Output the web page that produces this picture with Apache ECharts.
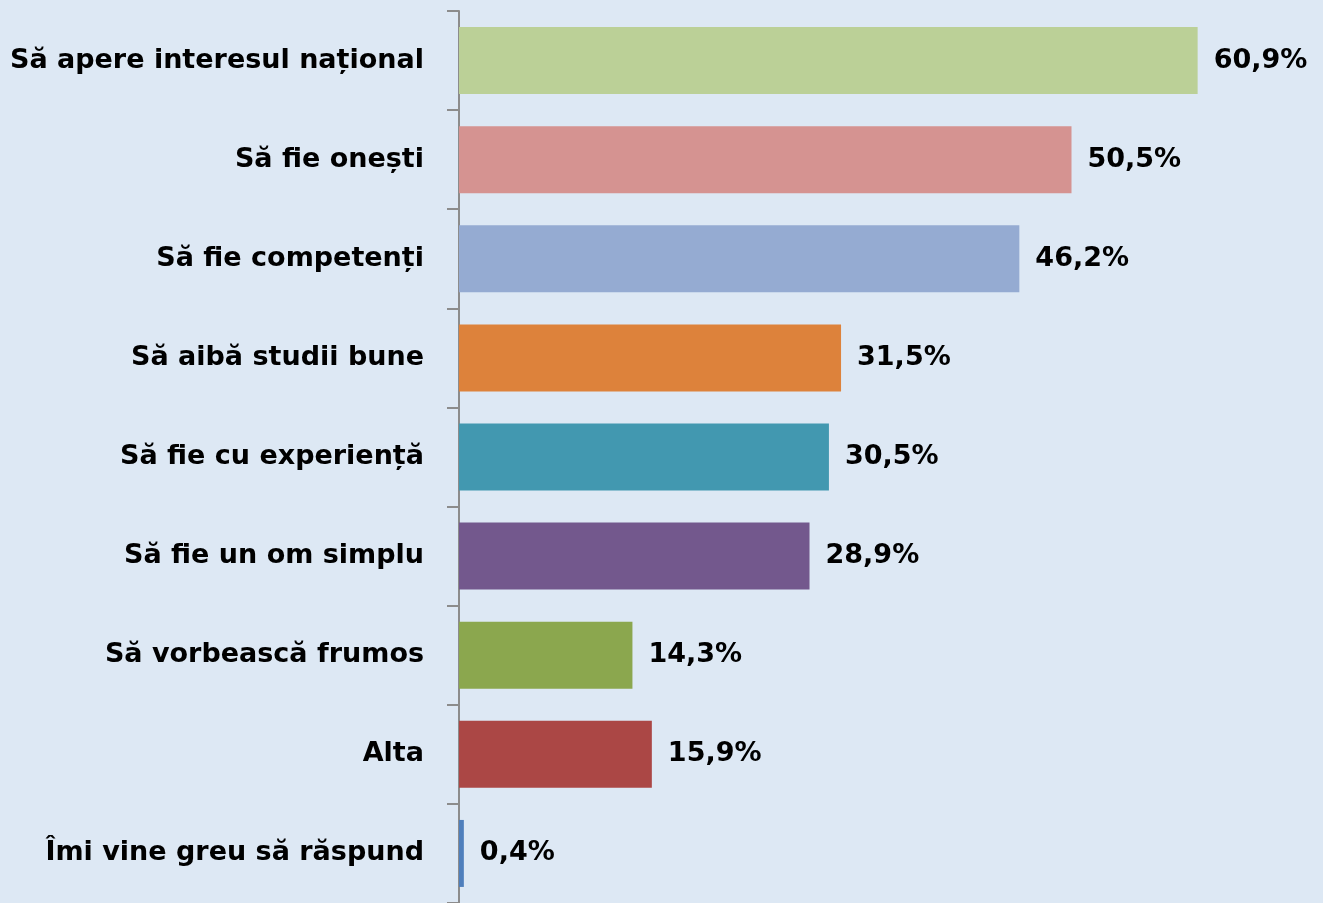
<!DOCTYPE html>
<html>
<head>
<meta charset="utf-8">
<script src="https://cdn.jsdelivr.net/npm/echarts@6/dist/echarts.min.js"></script>
<style>
  html, body { margin: 0; padding: 0; background: #dde8f4; }
  #chart { width: 1323px; height: 903px; }
</style>
</head>
<body>
<div id="chart"></div>
<script>
const categories = [
  "Să apere interesul național",
  "Să fie onești",
  "Să fie competenți",
  "Să aibă studii bune",
  "Să fie cu experiență",
  "Să fie un om simplu",
  "Să vorbească frumos",
  "Alta",
  "Îmi vine greu să răspund"
];
const values = [60.9, 50.5, 46.2, 31.5, 30.5, 28.9, 14.3, 15.9, 0.4];
const barColors = [
  "#bbd097", "#d59391", "#95abd2", "#dd823b", "#4298b0",
  "#73588d", "#8ba74e", "#ab4745", "#4f7fbc"
];

const chart = echarts.init(document.getElementById("chart"));

chart.setOption({
  backgroundColor: "#dde8f4",
  animation: false,
  grid: { left: 459, right: 15, top: 11, bottom: -2, containLabel: false },
  xAxis: {
    type: "value",
    min: 0,
    max: 70,
    show: false
  },
  yAxis: {
    type: "category",
    inverse: true,
    data: categories,
    axisLine: { show: true, lineStyle: { color: "#8c8c8c", width: 2 } },
    axisTick: { show: true, length: 12, lineStyle: { color: "#8c8c8c", width: 2 } },
    axisLabel: {
      margin: 35,
      color: "#000",
      fontFamily: "DejaVu Sans",
      fontWeight: "bold",
      fontSize: 27
    },
    splitLine: { show: false }
  },
  series: [
    {
      type: "bar",
      data: values.map((v, i) => ({ value: v, itemStyle: { color: barColors[i] } })),
      barWidth: 67,
      label: {
        show: true,
        position: "right",
        distance: 16,
        color: "#000",
        fontFamily: "DejaVu Sans",
        fontWeight: "bold",
        fontSize: 27,
        formatter: (p) => p.value.toFixed(1).replace(".", ",") + "%"
      }
    }
  ]
});
</script>
</body>
</html>
